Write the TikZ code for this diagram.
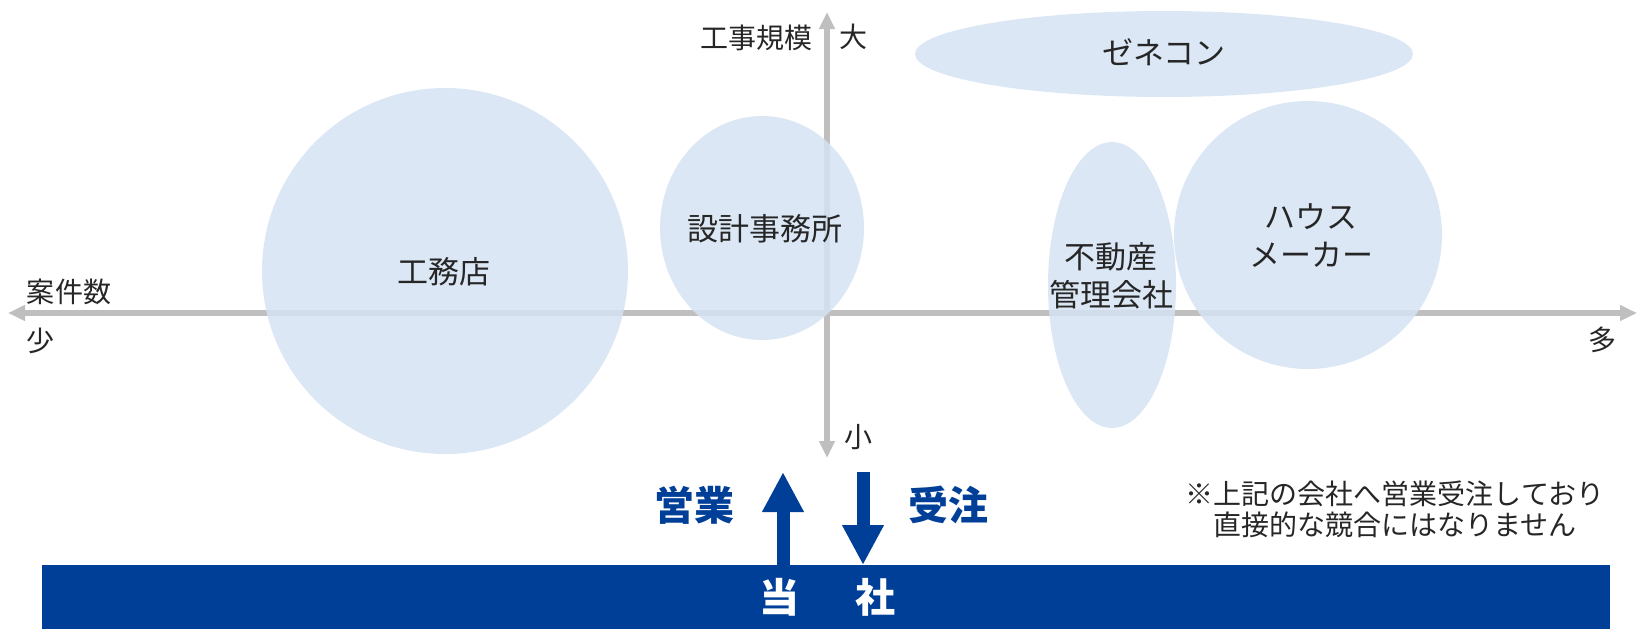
\documentclass[tikz,border=0pt]{standalone}
\usepackage{fontspec}
\setmainfont{Noto Sans CJK JP}
\usetikzlibrary{arrows.meta,shapes.geometric}
\definecolor{axisgray}{HTML}{BFBFBF}
\definecolor{bubble}{HTML}{D5E3F3}
\definecolor{corpblue}{HTML}{003F98}
\definecolor{txt}{HTML}{262626}
\tikzset{
  axisline/.style={draw=axisgray, line width=6pt, {Triangle[length=17pt,width=15pt]}-{Triangle[length=17pt,width=15pt]}},
  bub/.style={ellipse, fill=bubble, fill opacity=0.85, draw=none, inner sep=0pt},
  lbl/.style={text=txt, inner sep=0pt, font=\fontsize{28}{32}\selectfont},
  big/.style={text=txt, inner sep=0pt, font=\fontsize{31}{37}\selectfont},
  note/.style={text=txt, inner sep=0pt, font=\fontsize{28}{32}\selectfont},
  bluelbl/.style={text=corpblue, inner sep=0pt, font=\fontsize{40}{46}\selectfont\bfseries},
  bluearrow/.style={draw=corpblue, line width=13pt, -{Triangle[length=40pt,width=39pt]}}
}
\begin{document}
\begin{tikzpicture}[x=1pt,y=-1pt]
\useasboundingbox (0,0) rectangle (1637,629);
% axes
\coordinate (hL) at (8,313);
\coordinate (hR) at (1637,313);
\coordinate (vT) at (827,12);
\coordinate (vB) at (827,458);
\draw[axisline] (hL) -- (hR);
\draw[axisline] (vB) -- (vT);
% bubbles
\node[bub, minimum width=366pt, minimum height=366pt] (koumuten) at (445,271) {};
\node[bub, minimum width=204pt, minimum height=224pt] (sekkei) at (762,228) {};
\node[bub, minimum width=498pt, minimum height=86pt] (zenecon) at (1164,54) {};
\node[bub, minimum width=128pt, minimum height=286pt] (fudousan) at (1112,285) {};
\node[bub, minimum width=268pt, minimum height=268pt] (house) at (1308,235) {};
% bubble labels
\node[big] (tKoumuten) at (444,272) {工務店};
\node[big] (tSekkei) at (765,229) {設計事務所};
\node[big] (tZenecon) at (1164,52) {ゼネコン};
\node[big] (tFudou1) at (1111,257) {不動産};
\node[big] (tFudou2) at (1111,295) {管理会社};
\node[big] (tHouse1) at (1311,217) {ハウス};
\node[big] (tHouse2) at (1311,255) {メーカー};
% axis labels
\node[lbl] (tScale) at (756,38) {工事規模};
\node[lbl] (tLarge) at (853,37) {大};
\node[lbl] (tCount) at (69,292) {案件数};
\node[lbl] (tFew) at (40,341) {少};
\node[lbl] (tMany) at (1602,340) {多};
\node[lbl] (tSmall) at (858,437) {小};
% company bar
\node[fill=corpblue, minimum width=1568pt, minimum height=64pt, inner sep=0pt, anchor=north west] (bar) at (42,565) {};
\node[inner sep=0pt, text=white, font=\fontsize{40}{46}\selectfont\bfseries] (tTousha) at (827,597) {当\hspace{56pt}社};
% arrows
\coordinate (upTip) at (783,472);
\coordinate (downStart) at (863,472);
\draw[bluearrow] (bar.north -| upTip) -- (upTip);
\draw[bluearrow] (downStart) -- (bar.north -| downStart);
\node[bluelbl] (tEigyou) at (694,505) {営業};
\node[bluelbl] (tJuchu) at (948,505) {受注};
% note
\node[note] (note1) at (1395,494) {※上記の会社へ営業受注しており};
\node[note] (note2) at (1395,525) {直接的な競合にはなりません};
\end{tikzpicture}
\end{document}
